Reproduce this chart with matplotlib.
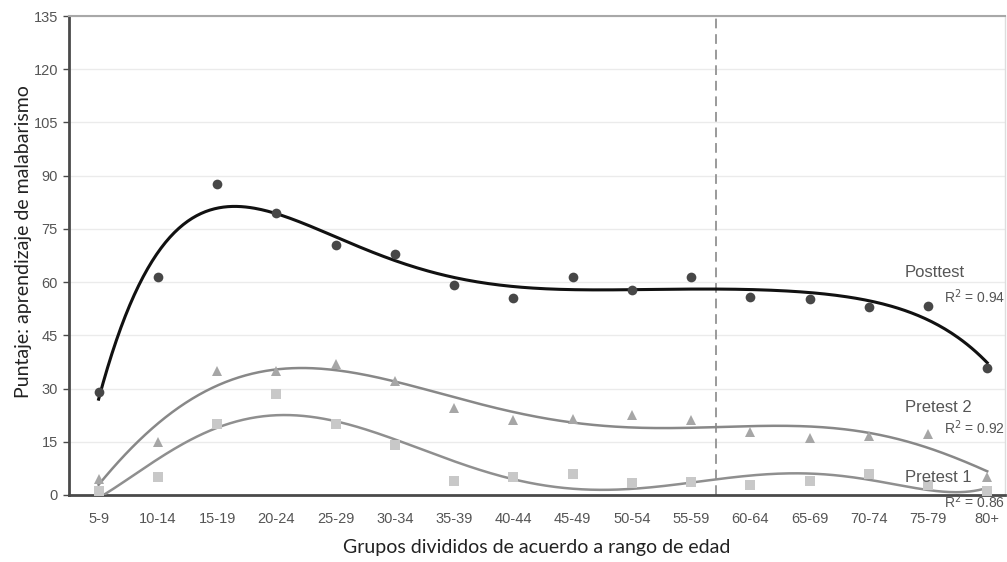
import numpy as np
import matplotlib
matplotlib.use("Agg")
import matplotlib.pyplot as plt

categories = ["5-9", "10-14", "15-19", "20-24", "25-29", "30-34", "35-39", "40-44",
              "45-49", "50-54", "55-59", "60-64", "65-69", "70-74", "75-79", "80+"]
posttest = [29, 61.4, 87.6, 79.5, 70.5, 68, 59.2, 55.5, 61.4, 57.8, 61.4, 55.8, 55.3, 52.9, 53.3, 35.9]
pretest2 = [4.5, 15, 35, 35, 37, 32, 24.5, 21, 21.5, 22.5, 21.1, 17.8, 16, 16.6, 17.3, 5.2]
pretest1 = [1, 5, 20, 28.5, 20, 14, 4, 5, 6, 3.5, 3.8, 2.8, 3.9, 5.9, 2.8, 1.2]
yticks = [0, 15, 30, 45, 60, 75, 90, 105, 120, 135]
r2_labels = ["R$^2$ = 0.94", "R$^2$ = 0.92", "R$^2$ = 0.86"]
series_names = ["Posttest", "Pretest 2", "Pretest 1"]
divider_pos = 10.42

fig = plt.figure(figsize=(10.07, 5.62), dpi=100)
ax = fig.add_axes([69/1007, 1-495/562, (1005-69)/1007, (495-16)/562])

x = np.arange(len(categories))
xs = np.linspace(0, len(categories)-1, 400)

styles = [
    dict(data=posttest, marker='o', mcolor='#474747', lcolor='#111111', ms=7, lw=2.2, deg=6),
    dict(data=pretest2, marker='^', mcolor='#a6a6a6', lcolor='#888888', ms=7, lw=1.8, deg=6),
    dict(data=pretest1, marker='s', mcolor='#c8c8c8', lcolor='#8f8f8f', ms=6.5, lw=1.8, deg=6),
]
for s in styles:
    coef = np.polyfit(x, s['data'], s['deg'])
    ax.plot(xs, np.polyval(coef, xs), color=s['lcolor'], lw=s['lw'], zorder=3)
    ax.plot(x, s['data'], linestyle='none', marker=s['marker'], color=s['mcolor'],
            markersize=s['ms'], markeredgewidth=0, zorder=4)

ax.axvline(divider_pos, color='#9a9a9a', lw=1.4, ls=(0, (5, 3)), zorder=2)

ax.set_xlim(-0.5, 15.3)
ax.set_ylim(0, 135)
ax.set_yticks(yticks)
ax.set_xticks(x)
ax.set_xticklabels(categories)
ax.yaxis.grid(True, color='#ebebeb', lw=1)
ax.set_axisbelow(True)

for sp in ['left', 'bottom']:
    ax.spines[sp].set_color('#4a4a4a')
    ax.spines[sp].set_linewidth(2)
ax.spines['top'].set_color('#a8a8a8')
ax.spines['top'].set_linewidth(1.5)
ax.spines['right'].set_color('#dddddd')
ax.spines['right'].set_linewidth(1)

ax.tick_params(axis='y', length=4, width=1, color='#4a4a4a', pad=4,
               labelsize=10.5, labelcolor='#555555')
ax.tick_params(axis='x', length=0, pad=12, labelsize=10.5, labelcolor='#555555')
for lab in ax.get_xticklabels() + ax.get_yticklabels():
    lab.set_fontfamily('Liberation Sans')

ax.set_ylabel("Puntaje: aprendizaje de malabarismo", fontsize=14, family='Lato',
              color='#222222', va='center')
ax.yaxis.set_label_coords(-0.049, 0.530)
ax.set_xlabel("Grupos divididos de acuerdo a rango de edad", fontsize=14, family='Lato',
              color='#222222', va='center')
ax.xaxis.set_label_coords(0.5, -0.1086)

# series labels
name_pos = [(14.12, 62.7), (14.17, 24.8), (14.17, 5.0)]
r2_pos = [(15.3, 55.8), (15.3, 18.9), (15.3, -1.9)]
for (nx, ny), (rx, ry), n, r in zip(name_pos, r2_pos, series_names, r2_labels):
    ax.text(nx, ny, n, ha='center', va='center', fontsize=12, family='Liberation Sans',
            color='#555555', clip_on=False, zorder=5)
    ax.text(rx, ry, r, ha='right', va='center', fontsize=10, family='Liberation Sans',
            color='#555555', clip_on=False, zorder=5)

fig.savefig("out.png", dpi=100)
